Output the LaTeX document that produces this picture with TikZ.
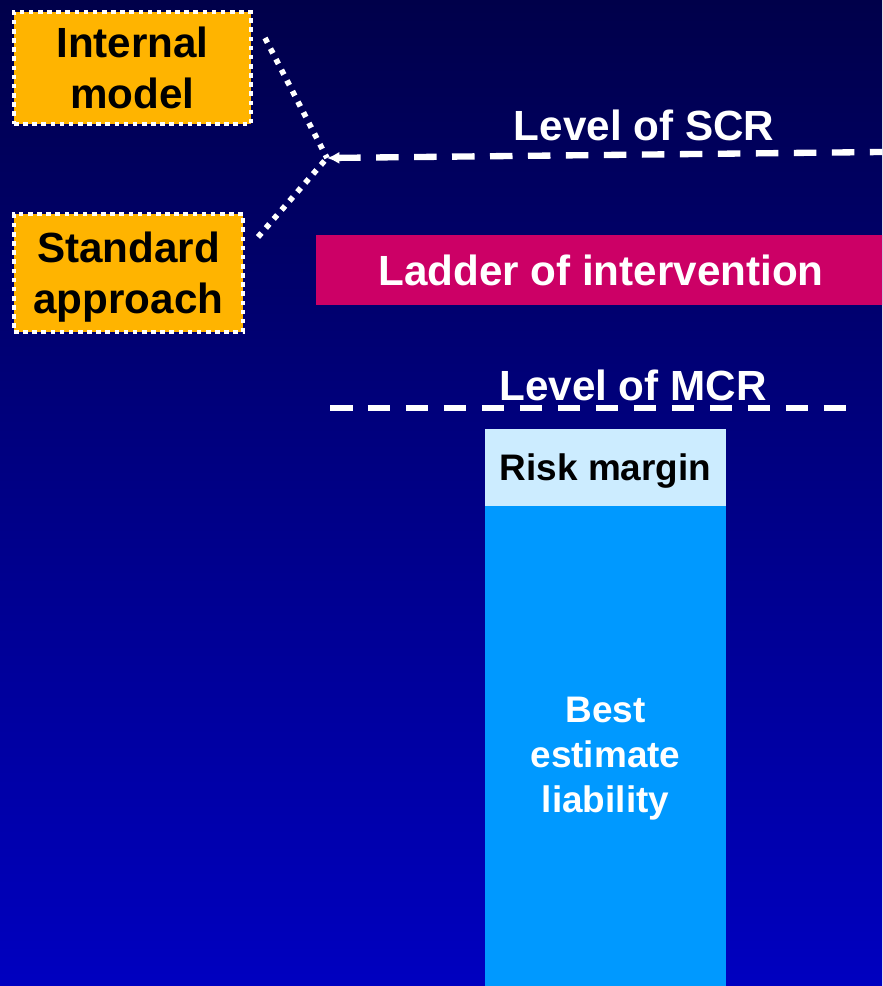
\documentclass[tikz,border=0pt]{standalone}
\usepackage{fontspec}
\setmainfont{Liberation Sans}
\usetikzlibrary{arrows.meta}

\definecolor{bgtop}{HTML}{00004A}
\definecolor{bgbot}{HTML}{0000C0}
\definecolor{amber}{HTML}{FFB400}
\definecolor{ladder}{HTML}{CC0066}
\definecolor{rmfill}{HTML}{CCECFF}
\definecolor{belfill}{HTML}{0099FF}

\begin{document}
\begin{tikzpicture}[
    x=0.01cm, y=-0.01cm,
    every node/.style={font=\bfseries\fontsize{12}{14.6}\selectfont, align=center, inner sep=0pt},
    choice/.style={rectangle, fill=amber, draw=white, line width=1.3pt,
        dash pattern=on 1.3pt off 1.3pt, text=black},
    level/.style={draw=white, line width=1.8pt, dash pattern=on 6.4pt off 4.4pt},
    feed/.style={draw=white, line width=1.6pt, dash pattern=on 1.5pt off 1.9pt},
    block/.style={rectangle, minimum width=2.41cm, text depth=0pt,
        font=\bfseries\fontsize{10.5}{12.8}\selectfont}
]
    \useasboundingbox (0,0) rectangle (882,986);
    \clip (0,0) rectangle (882,986);
    \shade[top color=bgtop, bottom color=bgbot] (0,0) rectangle (882,986);

    \coordinate (J) at (327,158);
    \coordinate (SCRend) at (882,152);
    \coordinate (MCRbeg) at (330,408);
    \coordinate (MCRend) at (860,408);
    \coordinate (IMout) at (265,38);
    \coordinate (SAout) at (258,237);

    \node[choice, minimum width=2.37cm, minimum height=1.12cm] (IM) at (132.5,68) {Internal\\model};
    \node[choice, minimum width=2.29cm, minimum height=1.18cm, text depth=0pt] (SA) at (128.5,273) {Standard\\approach};

    \node[rectangle, fill=ladder, text=white, minimum width=5.7cm, minimum height=0.7cm] (LI) at (601,270) {Ladder of intervention};

    \node[text=white] (SCR) at (644,125) {Level of SCR};
    \node[text=white] (MCR) at (633,385) {Level of MCR};

    \node[block, fill=rmfill, minimum height=0.77cm] (RM) at (605.5,467.5) {Risk margin};
    \node[block, fill=belfill, text=white, minimum height=4.98cm] (BEL) at (605.5,755) {Best\\estimate\\liability};

    \draw[level, {Latex[length=3.5pt,width=3.5pt]}-] (J) -- (SCRend);
    \draw[level, line width=1.6pt] (MCRbeg) -- (MCRend);
    \draw[feed] (IMout) -- (J);
    \draw[feed] (SAout) -- (J);
\end{tikzpicture}
\end{document}
